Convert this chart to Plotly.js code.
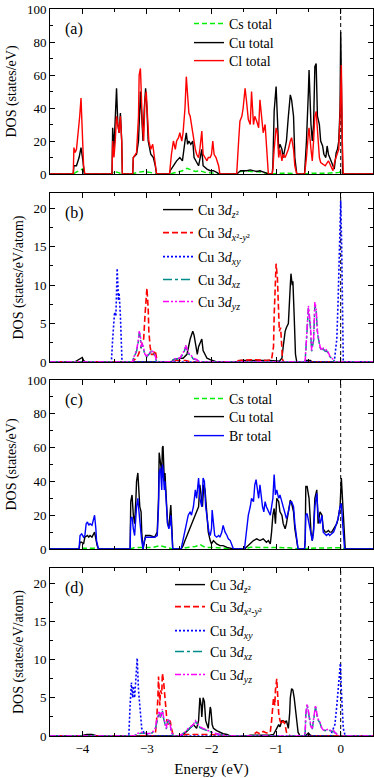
<!DOCTYPE html>
<html>
<head>
<meta charset="utf-8">
<script src="https://cdn.plot.ly/plotly-3.0.1.min.js"></script>
<style>
  html, body { margin: 0; padding: 0; background: #fff; }
  #chart { width: 374px; height: 778px; }
</style>
</head>
<body>
<div id="chart"></div>
<script>
// ---- (a) CsCuCl3 totals: [energy eV, DOS] ----
const csA = [[-4.5,0],[-4.14,0],[-4.1,1],[-4.04,2.5],[-4.0,3],[-3.97,0],[-3.54,0],[-3.52,1.5],[-3.45,1],[-3.38,0],
  [-3.22,0],[-3.15,1],[-3.05,1.5],[-2.95,1],[-2.85,0],[-2.65,0],[-2.55,1],[-2.45,2],[-2.38,3.5],[-2.32,2.5],[-2.25,1.5],
  [-2.18,2],[-2.1,1],[-1.95,0.5],[-1.87,0],[-1.61,0],[-1.55,1.5],[-1.45,2],[-1.38,1.5],[-1.3,1.5],[-1.2,0.8],[-1.12,0],
  [-1.06,0],[-0.95,0.5],[-0.8,0.5],[-0.68,0],[-0.56,0],[-0.45,0.5],[-0.2,0.5],[-0.02,1],[0.01,2],[0.04,0],[0.5,0]];
const cuA = [[-4.5,0],[-4.14,0],[-4.13,5],[-4.09,5],[-4.05,10],[-4.02,16],[-3.99,8],[-3.97,0],
  [-3.54,0],[-3.53,28],[-3.51,15],[-3.49,30],[-3.47,52],[-3.45,30],[-3.43,25],[-3.41,37],[-3.39,20],[-3.38,0],
  [-3.22,0],[-3.21,10],[-3.16,12],[-3.13,20],[-3.12,35],[-3.10,50],[-3.08,35],[-3.06,20],[-3.04,40],[-3.02,52],[-3.00,40],
  [-2.98,20],[-2.94,12],[-2.90,10],[-2.87,5],[-2.85,0],
  [-2.65,0],[-2.64,2],[-2.59,5],[-2.54,8],[-2.49,10],[-2.45,8],[-2.41,20],[-2.39,25],[-2.37,18],[-2.35,20],[-2.32,18],
  [-2.29,20],[-2.27,10],[-2.24,8],[-2.20,5],[-2.15,15],[-2.13,5],[-2.07,3],[-2.02,2],[-1.97,2],[-1.92,1],[-1.87,0],
  [-1.61,0],[-1.58,1],[-1.55,2],[-1.50,2],[-1.45,2],[-1.40,2.5],[-1.35,2],[-1.30,1.5],[-1.25,2],[-1.20,1],[-1.15,0.5],[-1.12,0],
  [-1.06,0],[-1.05,5],[-1.03,38],[-1.00,53],[-0.98,35],[-0.96,15],[-0.94,18],[-0.91,15],[-0.89,10],[-0.86,17],[-0.84,20],
  [-0.81,35],[-0.78,48],[-0.76,45],[-0.73,35],[-0.71,10],[-0.68,0],
  [-0.56,0],[-0.55,5],[-0.53,20],[-0.50,50],[-0.49,63],[-0.46,30],[-0.44,20],[-0.42,30],[-0.40,65],[-0.38,67],[-0.36,35],
  [-0.33,30],[-0.31,20],[-0.28,17],[-0.26,12],[-0.23,10],[-0.21,17],[-0.19,12],[-0.15,8],[-0.12,5],[-0.10,3],[-0.07,13],
  [-0.05,15],[-0.03,20],[-0.01,40],[0.00,86],[0.015,40],[0.03,0],[0.5,0]];
const clA = [[-4.5,0],[-4.14,0],[-4.13,16],[-4.11,13],[-4.09,15],[-4.06,25],[-4.04,35],[-4.02,46],[-4.00,20],[-3.98,5],[-3.96,0],
  [-3.54,0],[-3.53,20],[-3.51,10],[-3.49,20],[-3.47,35],[-3.45,30],[-3.43,25],[-3.41,35],[-3.39,20],[-3.38,0],
  [-3.22,0],[-3.21,10],[-3.18,12],[-3.16,13],[-3.13,35],[-3.12,60],[-3.10,64],[-3.08,40],[-3.07,30],[-3.05,20],[-3.03,45],
  [-3.01,50],[-2.99,30],[-2.97,20],[-2.94,15],[-2.91,18],[-2.89,12],[-2.87,5],[-2.85,0],
  [-2.65,0],[-2.64,5],[-2.62,12],[-2.59,20],[-2.56,15],[-2.54,20],[-2.51,22],[-2.49,25],[-2.46,20],[-2.44,25],[-2.41,40],
  [-2.39,59],[-2.37,45],[-2.35,37],[-2.33,35],[-2.31,30],[-2.28,20],[-2.25,15],[-2.23,12],[-2.20,10],[-2.18,15],[-2.15,26],
  [-2.13,12],[-2.10,10],[-2.07,8],[-2.05,10],[-2.02,10],[-2.00,12],[-1.98,20],[-1.96,12],[-1.93,10],[-1.89,5],[-1.87,0],
  [-1.61,0],[-1.60,5],[-1.58,20],[-1.56,32],[-1.53,35],[-1.51,40],[-1.48,52],[-1.46,45],[-1.43,33],[-1.40,30],[-1.38,50],
  [-1.35,30],[-1.33,35],[-1.30,32],[-1.27,28],[-1.25,45],[-1.22,30],[-1.20,25],[-1.17,30],[-1.15,15],[-1.12,0],
  [-1.06,0],[-1.05,3],[-1.03,15],[-1.00,28],[-0.98,25],[-0.96,10],[-0.94,15],[-0.91,8],[-0.89,12],[-0.86,10],[-0.84,12],
  [-0.81,15],[-0.78,20],[-0.76,22],[-0.73,15],[-0.71,5],[-0.68,0],
  [-0.56,0],[-0.55,3],[-0.53,10],[-0.50,25],[-0.49,28],[-0.46,15],[-0.44,8],[-0.42,20],[-0.40,35],[-0.38,38],[-0.36,25],
  [-0.33,10],[-0.31,7],[-0.28,6],[-0.24,5],[-0.19,8],[-0.15,4],[-0.12,2],[-0.09,8],[-0.05,12],[-0.03,15],[-0.01,35],
  [0.01,66],[0.025,20],[0.04,0],[0.5,0]];

// ---- (b) Cu 3d orbitals, chloride ----
const dz2B = [[-4.5,0],[-4.12,0],[-4.08,0.2],[-4.03,0.4],[-4.0,0.6],[-3.98,0.2],[-3.95,0],
  [-2.62,0],[-2.59,0.3],[-2.49,0.5],[-2.44,0.5],[-2.38,1],[-2.36,2],[-2.33,3],[-2.29,4],[-2.27,3.5],[-2.24,2],[-2.22,1],
  [-2.20,2],[-2.18,2.5],[-2.15,3],[-2.13,1.5],[-2.10,1],[-2.07,0.5],[-2.02,0.3],[-1.97,0.2],[-1.92,0],
  [-1.60,0],[-1.55,0.2],[-1.3,0.2],[-1.1,0.2],[-0.95,0.1],[-0.91,0.5],[-0.89,2],[-0.86,4],[-0.84,4.5],[-0.81,5],
  [-0.78,10],[-0.77,11.5],[-0.75,10],[-0.74,10.5],[-0.72,6],[-0.70,1],[-0.68,0],
  [-0.56,0],[-0.53,0.2],[-0.47,0.2],[-0.44,0],[0.5,0]];
const dx2B = [[-4.5,0],[-3.22,0],[-3.21,0.2],[-3.16,0.5],[-3.13,1],[-3.11,1.5],[-3.08,2],[-3.05,3],[-3.03,6],[-3.01,9],
  [-3.00,9.6],[-2.98,7],[-2.97,4],[-2.95,2],[-2.93,1],[-2.90,1],[-2.87,1.5],[-2.85,0.5],[-2.83,0],
  [-2.62,0],[-2.55,0.2],[-2.4,0.2],[-2.3,0],
  [-1.62,0],[-1.58,0.2],[-1.35,0.3],[-1.15,0.2],[-1.07,0.3],[-1.04,2],[-1.03,6],[-1.01,10],[-1.00,12.8],[-0.98,11],
  [-0.96,7],[-0.95,4],[-0.93,4.5],[-0.91,2],[-0.90,0.3],[-0.88,0],[0.5,0]];
const dxyB = [[-4.5,0],[-3.55,0],[-3.53,3],[-3.51,5],[-3.50,6.5],[-3.48,6],[-3.47,11],[-3.46,12.2],[-3.44,8],[-3.43,9],
  [-3.41,6],[-3.40,2],[-3.385,0],
  [-0.10,0],[-0.06,3],[-0.04,8],[-0.02,15],[-0.01,20],[0.0,21],[0.015,15],[0.03,5],[0.04,0],[0.5,0]];
const dxzB = [[-4.5,0],[-3.22,0],[-3.21,0.4],[-3.18,0.9],[-3.16,1.4],[-3.13,2.8],[-3.12,3.8],[-3.10,3.2],[-3.09,1.8],
  [-3.07,2.3],[-3.05,1.4],[-3.03,0.9],[-3.00,0.7],[-2.98,0.9],[-2.95,1.1],[-2.93,1.4],[-2.90,1.2],[-2.87,0.7],[-2.85,0],
  [-2.60,0],[-2.59,0.3],[-2.54,0.4],[-2.49,0.5],[-2.45,0.9],[-2.42,1.4],[-2.40,2],[-2.38,1.4],[-2.36,1.1],[-2.33,0.9],
  [-2.31,0.7],[-2.28,0.4],[-2.23,0.3],[-2.18,0],
  [-0.56,0],[-0.55,0.2],[-0.53,2.8],[-0.50,7.0],[-0.47,4.6],[-0.45,1.4],[-0.42,2.8],[-0.40,7.4],[-0.38,6.6],[-0.36,3.8],
  [-0.34,2.8],[-0.32,1.9],[-0.29,1.4],[-0.27,1.7],[-0.24,1.4],[-0.22,1.5],[-0.19,1.1],[-0.17,0.7],[-0.14,0.5],[-0.11,0.3],
  [-0.09,0],[0.5,0]];
const dyzB = [[-4.5,0],[-3.22,0],[-3.21,0.5],[-3.18,1],[-3.16,1.5],[-3.13,3],[-3.12,4],[-3.10,3.5],[-3.09,2],[-3.07,2.5],
  [-3.05,1.5],[-3.03,1],[-3.00,0.8],[-2.98,1],[-2.95,1.2],[-2.93,1.5],[-2.90,1.3],[-2.87,0.8],[-2.85,0],
  [-2.60,0],[-2.59,0.3],[-2.54,0.5],[-2.49,0.5],[-2.45,1],[-2.42,1.5],[-2.40,2.2],[-2.38,1.5],[-2.36,1.2],[-2.33,1],
  [-2.31,0.8],[-2.28,0.5],[-2.23,0.3],[-2.18,0],
  [-0.56,0],[-0.55,0.2],[-0.53,3],[-0.50,7.3],[-0.47,5],[-0.45,1.5],[-0.42,3],[-0.40,7.8],[-0.38,7],[-0.36,4],[-0.34,3],
  [-0.32,2],[-0.29,1.5],[-0.27,1.8],[-0.24,1.5],[-0.22,1.6],[-0.19,1.2],[-0.17,0.8],[-0.14,0.5],[-0.11,0.3],[-0.09,0],[0.5,0]];

// ---- (c) CsCuBr3 totals ----
const csC = [[-4.5,0],[-4.05,0],[-4.0,0.5],[-3.8,0.5],[-3.75,0],[-3.26,0],[-3.2,0.8],[-3.05,0.8],[-2.9,1],[-2.8,2],[-2.7,1],
  [-2.6,0],[-2.46,0],[-2.4,0.8],[-2.25,1.5],[-2.17,2.5],[-2.1,1],[-1.9,0.8],[-1.66,0],[-1.48,0],[-1.4,1],[-1.2,1],[-1.0,0.8],
  [-0.8,0.8],[-0.66,0],[-0.55,0],[-0.5,0.5],[-0.2,0.5],[0.0,0.8],[0.07,0],[0.5,0]];
const cuC = [[-4.5,0],[-4.05,0],[-4.035,4],[-4.01,4],[-3.98,3],[-3.96,7],[-3.92,8],[-3.90,7],[-3.88,8],[-3.85,7],[-3.81,10],
  [-3.79,5],[-3.77,2],[-3.75,0],
  [-3.26,0],[-3.25,28],[-3.23,32],[-3.21,20],[-3.19,15],[-3.17,30],[-3.16,40],[-3.14,45],[-3.13,35],[-3.11,25],[-3.09,22],
  [-3.08,10],[-3.06,0],[-3.04,5],[-3.02,8],[-2.95,8],[-2.88,7],[-2.84,10],[-2.82,30],[-2.81,57],[-2.79,50],[-2.77,45],
  [-2.76,60],[-2.75,61],[-2.73,40],[-2.72,45],[-2.70,30],[-2.68,15],[-2.66,13],[-2.64,20],[-2.63,26],[-2.61,10],[-2.60,0],
  [-2.47,0],[-2.44,2],[-2.41,5],[-2.38,8],[-2.36,10],[-2.33,12],[-2.31,15],[-2.28,18],[-2.25,20],[-2.23,22],[-2.20,25],
  [-2.18,38],[-2.16,30],[-2.14,25],[-2.12,38],[-2.10,35],[-2.07,20],[-2.05,10],[-2.02,5],[-2.00,3],[-1.97,5],[-1.95,4],
  [-1.92,3],[-1.87,2],[-1.82,2],[-1.76,1],[-1.71,0.5],[-1.66,0],
  [-1.49,0],[-1.46,1],[-1.40,3],[-1.35,5],[-1.30,6],[-1.25,5],[-1.20,6],[-1.15,4],[-1.12,5],[-1.09,3],[-1.07,10],[-1.05,20],
  [-1.03,24],[-1.01,15],[-0.99,30],[-0.96,28],[-0.94,22],[-0.91,20],[-0.89,15],[-0.86,12],[-0.84,15],[-0.81,22],[-0.78,29],
  [-0.76,27],[-0.73,22],[-0.71,12],[-0.68,5],[-0.66,0],
  [-0.56,0],[-0.55,5],[-0.54,37],[-0.52,37],[-0.49,30],[-0.46,10],[-0.44,5],[-0.42,12],[-0.40,30],[-0.37,35],[-0.35,15],
  [-0.32,22],[-0.29,20],[-0.27,12],[-0.24,10],[-0.22,10],[-0.19,11],[-0.17,10],[-0.14,10],[-0.11,12],[-0.09,13],[-0.06,15],
  [-0.04,18],[-0.01,25],[0.01,42],[0.03,25],[0.05,10],[0.07,0],[0.5,0]];
const brC = [[-4.5,0],[-4.05,0],[-4.035,8],[-4.01,9],[-3.98,7],[-3.96,8],[-3.94,15],[-3.92,16],[-3.90,14],[-3.88,15],
  [-3.85,14],[-3.83,18],[-3.81,20],[-3.79,12],[-3.78,5],[-3.75,0],
  [-3.26,0],[-3.25,18],[-3.23,19],[-3.21,12],[-3.19,8],[-3.16,25],[-3.14,30],[-3.13,25],[-3.11,15],[-3.09,10],[-3.08,5],
  [-3.06,0],[-3.04,5],[-3.02,7],[-2.95,7],[-2.88,7],[-2.84,8],[-2.82,25],[-2.81,45],[-2.79,48],[-2.77,35],[-2.76,50],
  [-2.75,47],[-2.73,35],[-2.72,40],[-2.70,25],[-2.68,15],[-2.66,12],[-2.64,15],[-2.63,20],[-2.61,8],[-2.60,0],
  [-2.47,0],[-2.44,5],[-2.41,10],[-2.38,15],[-2.36,20],[-2.33,22],[-2.31,20],[-2.28,25],[-2.25,35],[-2.23,30],[-2.20,42],
  [-2.18,30],[-2.15,25],[-2.13,42],[-2.11,40],[-2.09,25],[-2.06,15],[-2.04,10],[-2.02,8],[-2.00,12],[-1.99,23],[-1.97,15],
  [-1.95,8],[-1.92,7],[-1.89,8],[-1.87,7],[-1.84,10],[-1.82,14],[-1.79,10],[-1.76,8],[-1.74,6],[-1.71,5],[-1.69,3],[-1.66,0],
  [-1.49,0],[-1.46,10],[-1.43,20],[-1.40,25],[-1.38,30],[-1.35,28],[-1.33,38],[-1.31,41],[-1.29,35],[-1.27,30],[-1.25,38],
  [-1.23,30],[-1.21,25],[-1.19,22],[-1.17,28],[-1.15,25],[-1.12,22],[-1.09,20],[-1.07,25],[-1.05,30],[-1.03,44],[-1.01,32],
  [-0.99,35],[-0.96,30],[-0.94,32],[-0.91,28],[-0.89,25],[-0.86,20],[-0.84,18],[-0.81,22],[-0.78,28],[-0.76,28],[-0.73,25],
  [-0.71,15],[-0.68,5],[-0.66,0],
  [-0.56,0],[-0.55,5],[-0.54,20],[-0.52,21],[-0.49,15],[-0.46,8],[-0.44,5],[-0.42,10],[-0.40,25],[-0.37,33],[-0.35,20],
  [-0.32,15],[-0.29,20],[-0.27,10],[-0.24,9],[-0.22,8],[-0.19,9],[-0.17,8],[-0.14,9],[-0.11,10],[-0.09,12],[-0.06,15],
  [-0.04,18],[-0.01,25],[0.01,27],[0.03,15],[0.06,0],[0.5,0]];

// ---- (d) Cu 3d orbitals, bromide ----
const dz2D = [[-4.5,0],[-4.0,0],[-3.98,0.1],[-3.93,0.2],[-3.85,0.2],[-3.8,0.1],[-3.77,0],
  [-2.48,0],[-2.46,0.1],[-2.41,0.4],[-2.36,0.8],[-2.32,1.2],[-2.28,1.5],[-2.23,1],[-2.20,2],[-2.18,5],[-2.16,4],[-2.15,2.5],
  [-2.13,5],[-2.11,4.5],[-2.09,2],[-2.07,1.5],[-2.05,1],[-2.02,3.8],[-2.01,3.5],[-1.99,1.5],[-1.97,1],[-1.92,0.7],[-1.87,0.5],
  [-1.82,0.3],[-1.76,0.2],[-1.71,0],
  [-1.45,0],[-1.4,0.1],[-1.1,0.1],[-1.04,0.2],[-0.99,1],[-0.96,1.5],[-0.94,1.2],[-0.91,2],[-0.89,2],[-0.86,1.8],[-0.84,2],
  [-0.81,1],[-0.79,3],[-0.78,5],[-0.76,6.2],[-0.74,6],[-0.72,5],[-0.70,3],[-0.68,2],[-0.66,0.5],[-0.63,0],
  [-0.55,0],[-0.52,0.3],[-0.50,0.4],[-0.47,0.1],[-0.44,0],[0.5,0]];
const dx2D = [[-4.5,0],[-2.89,0],[-2.87,0.2],[-2.85,2],[-2.83,5],[-2.82,7.8],[-2.80,4],[-2.79,6],[-2.77,5.5],[-2.76,8.2],
  [-2.74,7],[-2.72,5],[-2.71,3],[-2.69,2],[-2.67,1.5],[-2.64,2],[-2.62,1],[-2.59,0],
  [-2.46,0],[-2.4,0.2],[-2.2,0.2],[-2.0,0.2],[-1.8,0],
  [-1.38,0],[-1.35,0.2],[-1.30,0.5],[-1.25,0.3],[-1.20,0.6],[-1.15,0.4],[-1.09,0.5],[-1.07,2],[-1.05,4],[-1.04,5],[-1.02,4],
  [-1.01,6],[-0.99,7.5],[-0.98,6],[-0.96,3],[-0.94,2],[-0.91,1.5],[-0.89,2],[-0.86,1.5],[-0.84,0.5],[-0.81,0.3],[-0.78,0],[0.5,0]];
const dxyD = [[-4.5,0],[-3.28,0],[-3.26,4],[-3.24,7],[-3.22,5],[-3.21,6.5],[-3.19,5],[-3.17,8],[-3.15,10.2],[-3.13,6],
  [-3.12,5],[-3.10,3],[-3.08,1],[-3.05,0.5],[-3.0,0.3],[-2.95,0],
  [-0.16,0],[-0.14,0.5],[-0.11,1],[-0.09,1.5],[-0.06,4],[-0.04,6],[-0.02,8],[-0.005,9.5],[0.01,6],[0.026,3],[0.04,1],
  [0.07,0],[0.5,0]];
const dxzD = [[-4.5,0],[-3.2,0],[-3.15,0.3],[-3.10,0.4],[-3.05,0.4],[-3.00,0.3],[-2.92,0.4],[-2.87,0.9],[-2.85,1.8],
  [-2.82,2.8],[-2.81,3.1],[-2.79,2.4],[-2.78,2.8],[-2.76,3.3],[-2.75,2.6],[-2.72,1.4],[-2.70,0.9],[-2.68,1.9],[-2.66,2.1],
  [-2.64,1.4],[-2.62,0.5],[-2.59,0],
  [-2.52,0],[-2.46,0.2],[-2.41,0.5],[-2.36,0.9],[-2.33,1.1],[-2.28,1.4],[-2.25,1.8],[-2.23,1.7],[-2.20,1.4],[-2.18,1.1],
  [-2.13,0.9],[-2.07,0.7],[-2.02,0.5],[-1.97,0.4],[-1.87,0.2],[-1.76,0],
  [-0.56,0],[-0.55,0.5],[-0.54,2.8],[-0.52,4.0],[-0.51,3.6],[-0.49,2.3],[-0.46,1.1],[-0.44,0.9],[-0.42,1.9],[-0.40,3.3],
  [-0.39,3.8],[-0.37,2.8],[-0.35,2.1],[-0.32,1.7],[-0.29,0.9],[-0.27,0.8],[-0.24,0.7],[-0.22,0.8],[-0.19,0.8],[-0.17,0.7],
  [-0.14,0.6],[-0.11,0.6],[-0.09,0.4],[-0.06,0.3],[-0.04,0],[0.5,0]];
const dyzD = [[-4.5,0],[-3.2,0],[-3.15,0.3],[-3.10,0.5],[-3.05,0.4],[-3.00,0.3],[-2.92,0.4],[-2.87,1],[-2.85,2],[-2.82,3],
  [-2.81,3.3],[-2.79,2.5],[-2.78,3],[-2.76,3.5],[-2.75,2.8],[-2.72,1.5],[-2.70,1],[-2.68,2],[-2.66,2.2],[-2.64,1.5],[-2.62,0.5],
  [-2.59,0],
  [-2.52,0],[-2.46,0.2],[-2.41,0.5],[-2.36,1],[-2.33,1.2],[-2.28,1.5],[-2.25,2],[-2.23,1.8],[-2.20,1.5],[-2.18,1.2],[-2.13,1],
  [-2.07,0.8],[-2.02,0.6],[-1.97,0.4],[-1.87,0.2],[-1.76,0],
  [-0.56,0],[-0.55,0.5],[-0.54,3],[-0.52,4.2],[-0.51,3.8],[-0.49,2.5],[-0.46,1.2],[-0.44,1],[-0.42,2],[-0.40,3.5],[-0.39,4],
  [-0.37,3],[-0.35,2.2],[-0.32,1.8],[-0.29,1],[-0.27,0.8],[-0.24,0.7],[-0.22,0.8],[-0.19,0.9],[-0.17,0.8],[-0.14,0.6],
  [-0.11,0.7],[-0.09,0.5],[-0.06,0.3],[-0.04,0],[0.5,0]];

const PANEL_LABELS = ['(a)', '(b)', '(c)', '(d)'];
const Y_TITLES = ['DOS (states/eV)', 'DOS (states/eV/atom)', 'DOS (states/eV)', 'DOS (states/eV/atom)'];
const Y_RANGES = [[0, 100], [0, 22], [0, 100], [0, 22]];
const Y_DTICK = [20, 5, 20, 5];
const ORB_NAMES = ['Cu 3<i>d</i><sub><i>z</i>²</sub>', 'Cu 3<i>d</i><sub><i>x</i>²<i>-y</i>²</sub>',
  'Cu 3<i>d</i><sub><i>xy</i></sub>', 'Cu 3<i>d</i><sub><i>xz</i></sub>', 'Cu 3<i>d</i><sub><i>yz</i></sub>'];

const FONT = "'Liberation Serif', 'Times New Roman', serif";

// plot area: 50..373 px wide, 9..736 px tall
const PX_TOP = 9, PX_BOT = 736, PLOT_H = PX_BOT - PX_TOP;
const DOMAINS = [[0.7730, 1.0], [0.5144, 0.7469], [0.2572, 0.4897], [0.0, 0.2311]];
// one legend per entry so rows can be spaced like the figure (row centre in px, left edge in px)
const LEG_ROWS = [[24, 43, 61], [210, 233, 257, 280, 302], [399, 417, 436], [585, 607, 631, 652, 675]];
const LEG_LEFT = [189, 158, 189, 170];

const layout = {
  width: 374, height: 778,
  margin: { l: 50, r: 1, t: PX_TOP, b: 778 - PX_BOT },
  paper_bgcolor: '#fff', plot_bgcolor: '#fff',
  font: { family: FONT, size: 13, color: '#000' },
  showlegend: true,
  shapes: [], annotations: []
};

let legCount = 0;
function tr(pts, name, panel, row, color, dash, width) {
  const n = panel === 1 ? '' : panel;
  legCount++;
  const key = legCount === 1 ? 'legend' : 'legend' + legCount;
  layout[key] = {
    x: (LEG_LEFT[panel - 1] - 50) / 323, y: (PX_BOT - LEG_ROWS[panel - 1][row]) / PLOT_H,
    xanchor: 'left', yanchor: 'middle',
    bgcolor: 'rgba(0,0,0,0)', borderwidth: 0,
    font: { family: FONT, size: 14, color: '#000' }
  };
  return {
    x: pts.map(p => p[0]), y: pts.map(p => p[1]), type: 'scatter', mode: 'lines', name,
    xaxis: 'x' + n, yaxis: 'y' + n, legend: key,
    line: { color, dash: dash || 'solid', width: width || 1.4 }, hoverinfo: 'skip'
  };
}

const DYZ = '6px,2px,2px,2px,2px,2px';
const data = [
  tr(csA, 'Cs total', 1, 0, '#00ee00', '5px,3px', 1.5),
  tr(cuA, 'Cu total', 1, 1, '#000000'),
  tr(clA, 'Cl total', 1, 2, '#ff0000'),
  tr(dz2B, ORB_NAMES[0], 2, 0, '#000000'),
  tr(dx2B, ORB_NAMES[1], 2, 1, '#ff0000', '6px,3px', 1.6),
  tr(dxyB, ORB_NAMES[2], 2, 2, '#0000ff', '2px,2px', 1.6),
  tr(dxzB, ORB_NAMES[3], 2, 3, '#008b8b', 'dashdot', 1.5),
  tr(dyzB, ORB_NAMES[4], 2, 4, '#ff00ff', DYZ, 1.5),
  tr(csC, 'Cs total', 3, 0, '#00ee00', '5px,3px', 1.5),
  tr(cuC, 'Cu total', 3, 1, '#000000'),
  tr(brC, 'Br total', 3, 2, '#0000ff'),
  tr(dz2D, ORB_NAMES[0], 4, 0, '#000000'),
  tr(dx2D, ORB_NAMES[1], 4, 1, '#ff0000', '6px,3px', 1.6),
  tr(dxyD, ORB_NAMES[2], 4, 2, '#0000ff', '2px,2px', 1.6),
  tr(dxzD, ORB_NAMES[3], 4, 3, '#008b8b', 'dashdot', 1.5),
  tr(dyzD, ORB_NAMES[4], 4, 4, '#ff00ff', DYZ, 1.5)
];

for (let i = 0; i < 4; i++) {
  const n = i === 0 ? '' : (i + 1);
  layout['xaxis' + n] = {
    anchor: 'y' + n, range: [-4.5, 0.5], dtick: 1, tick0: 0,
    ticks: 'inside', ticklen: 5, tickwidth: 1, tickcolor: '#000',
    minor: { dtick: 0.5, tick0: 0, ticks: 'inside', ticklen: 3, tickcolor: '#000', showgrid: false },
    showline: true, linecolor: '#000', linewidth: 1, mirror: 'allticks',
    showgrid: false, zeroline: false, showticklabels: i === 3,
    tickfont: { family: FONT, size: 13 },
    title: i === 3 ? { text: 'Energy (eV)', font: { family: FONT, size: 15 }, standoff: 14 } : undefined
  };
  layout['yaxis' + n] = {
    anchor: 'x' + n, domain: DOMAINS[i], range: Y_RANGES[i], dtick: Y_DTICK[i], tick0: 0,
    ticks: 'inside', ticklen: 5, tickwidth: 1, tickcolor: '#000',
    minor: { dtick: Y_DTICK[i] / 2, tick0: 0, ticks: 'inside', ticklen: 3, tickcolor: '#000', showgrid: false },
    showline: true, linecolor: '#000', linewidth: 1, mirror: 'allticks',
    showgrid: false, zeroline: false, ticklabeloverflow: 'allow',
    tickfont: { family: FONT, size: 13 },
    title: { text: Y_TITLES[i], font: { family: FONT, size: 14 }, standoff: 6 }
  };
  // Fermi level
  layout.shapes.push({
    type: 'line', xref: 'x' + n, yref: 'y' + n + ' domain', x0: 0, x1: 0, y0: 0, y1: 1,
    line: { color: '#000', width: 1, dash: '4px,3px' }, layer: 'below'
  });
  layout.annotations.push({
    text: PANEL_LABELS[i], xref: 'x' + n + ' domain', yref: 'y' + n + ' domain',
    x: 0.04, y: 0.88, xanchor: 'left', yanchor: 'middle', showarrow: false,
    font: { family: FONT, size: 16, color: '#000' }
  });
}

Plotly.newPlot('chart', data, layout, { displayModeBar: false, staticPlot: true });
</script>
</body>
</html>
